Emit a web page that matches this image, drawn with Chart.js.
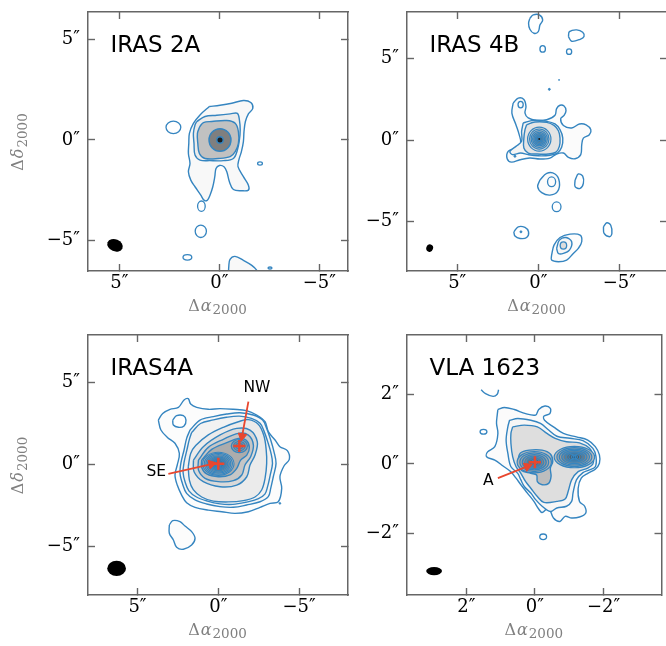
<!DOCTYPE html>
<html>
<head>
<meta charset="utf-8">
<title>Continuum maps</title>
<script src="https://cdn.jsdelivr.net/npm/chart.js"></script>
<style>
  body { margin: 0; background: #fff; }
  #wrap { position: relative; width: 666px; height: 646px; overflow: hidden; }
  canvas { position: absolute; left: 0; top: 0; }
</style>
</head>
<body>
<div id="wrap">
  <canvas id="p1" width="670" height="646"></canvas>
  <canvas id="p2" width="670" height="646"></canvas>
  <canvas id="p3" width="670" height="646"></canvas>
  <canvas id="p4" width="670" height="646"></canvas>
</div>
<script>
// ---- data (offsets in arcsec) ----
const panelNames = ['IRAS 2A', 'IRAS 4B', 'IRAS4A', 'VLA 1623'];
const ticksWide = [5, 0, -5];
const ticksVla = [2, 0, -2];
const iras2aXRange = [-6.43, 6.57], iras2aYRange = [-6.53, 6.38];
const iras4bXRange = [-7.94, 8.1], iras4bYRange = [-8.06, 7.88];
const iras4aXRange = [-8.02, 8.06], iras4aYRange = [-8.0, 7.92];
const vlaXRange = [-3.69, 3.73], vlaYRange = [-3.78, 3.72];

// IRAS 2A
const iras2aLevel1 = [[0.50,1.67],[-0.03,1.73],[-0.62,1.83],[-1.20,1.97],[-1.57,1.87],[-1.67,1.58],[-1.45,1.30],[-1.30,0.92],[-1.23,0.42],[-1.20,-0.08],[-1.10,-0.58],[-0.97,-1.00],[-0.93,-1.33],[-1.20,-1.83],[-1.45,-2.25],[-1.45,-2.50],[-1.12,-2.53],[-0.70,-2.47],[-0.50,-2.08],[-0.37,-1.58],[-0.23,-1.33],[0.00,-1.27],[0.17,-1.42],[0.23,-1.83],[0.33,-2.33],[0.47,-2.75],[0.60,-3.00],[0.77,-3.00],[0.93,-2.75],[1.22,-2.33],[1.43,-2.00],[1.55,-1.58],[1.47,-1.17],[1.55,-0.67],[1.53,-0.17],[1.50,0.33],[1.30,0.83],[0.97,1.25]];
const iras2aLevel2 = [[1.13,0.92],[0.72,1.17],[0.13,1.23],[-0.54,1.30],[-0.90,1.33],[-1.00,1.00],[-1.04,0.50],[-1.00,0.00],[-0.90,-0.50],[-0.70,-0.92],[-0.20,-1.03],[0.47,-1.03],[0.97,-1.00],[1.22,-0.75],[1.27,-0.17],[1.30,0.33],[1.22,0.75]];
const iras2aLevel3 = [[0.98,0.67],[0.80,0.87],[0.38,0.92],[-0.37,0.97],[-0.79,0.83],[-0.95,0.42],[-0.95,-0.17],[-0.79,-0.58],[-0.54,-0.83],[0.05,-0.92],[0.72,-0.92],[1.00,-0.67],[1.08,-0.17],[1.10,0.33]];
const iras2aEdge = [[-0.45,-6.8],[-0.47,-6.3],[-0.53,-5.95],[-0.78,-5.8],[-1.2,-6.0],[-1.62,-6.25],[-1.87,-6.5],[-1.95,-6.8]];
const iras2aCore = [[-0.03, 0, [0.55, 0.16], [0.56, 0.16]]];
const iras2aSpots = [[2.3,0.63,0.37,0.31],[-2.03,-1.17,0.12,0.08],[0.93,-4.55,0.28,0.31],[1.6,-5.85,0.22,0.14],[-2.53,-6.38,0.1,0.05],[0.9,-3.3,0.19,0.26]];
const iras2aBeam = [[5.22,-5.25,0.4,0.3,0.4]];

// IRAS 4B
const iras4bLevel1 = [[1.55,2.28],[1.24,2.58],[0.89,2.50],[0.76,2.07],[0.82,1.66],[0.62,1.36],[0.10,1.21],[-0.52,1.25],[-1.03,1.52],[-1.13,1.93],[-1.34,2.14],[-1.59,2.09],[-1.71,1.81],[-1.59,1.52],[-1.38,1.31],[-1.55,0.90],[-2.06,0.74],[-2.54,0.99],[-2.95,0.94],[-3.24,0.64],[-3.15,0.33],[-2.78,0.12],[-2.68,-0.29],[-2.62,-0.90],[-2.27,-1.15],[-1.86,-1.07],[-1.55,-0.80],[-1.13,-0.86],[-0.72,-1.11],[-0.10,-1.17],[0.52,-1.11],[1.13,-1.21],[1.65,-1.36],[1.92,-1.15],[1.86,-0.70],[1.44,-0.49],[1.09,-0.18],[1.18,0.33],[1.38,0.94],[1.63,1.66]];
const iras4bLevel2 = [[0.93,1.05],[0.31,1.21],[-0.52,1.15],[-1.03,0.99],[-1.34,0.64],[-1.51,0.12],[-1.44,-0.45],[-1.18,-0.80],[-0.72,-0.94],[0.00,-0.97],[0.62,-0.90],[1.09,-0.80],[1.59,-0.90],[1.75,-0.70],[1.38,-0.39],[1.03,-0.08],[1.03,0.53]];
const iras4bLevel3 = [[0.72,0.94],[0.21,1.11],[-0.52,1.09],[-0.97,0.90],[-1.24,0.57],[-1.34,0.12],[-1.30,-0.39],[-1.09,-0.74],[-0.62,-0.86],[0.10,-0.86],[0.62,-0.80],[0.89,-0.49],[0.89,0.12],[0.82,0.64]];
const iras4bTopLoop = [[0.52,7.49],[0.31,7.70],[-0.06,7.70],[-0.27,7.39],[-0.10,7.08],[0.00,6.67],[0.27,6.57],[0.52,6.82],[0.60,7.19]];
const iras4bNorthBlob = [[-1.86,6.37],[-1.92,6.67],[-2.37,6.78],[-2.74,6.63],[-2.82,6.37],[-2.58,6.20],[-2.06,6.08]];
const iras4bSouthBlob = [[-0.10,-2.46],[-0.52,-2.05],[-1.03,-2.09],[-1.30,-2.57],[-1.18,-3.18],[-0.72,-3.39],[-0.21,-3.24],[0.04,-2.87]];
const iras4bWestBlob = [[-2.27,-2.46],[-2.47,-2.09],[-2.74,-2.22],[-2.78,-2.67],[-2.58,-2.98],[-2.27,-2.87]];
const iras4bFarBlob = [[-4.02,-5.34],[-4.23,-5.09],[-4.47,-5.24],[-4.54,-5.75],[-4.39,-5.95],[-4.06,-5.75]];
const iras4bEastBlob = [[1.51,-5.65],[1.24,-5.34],[0.82,-5.38],[0.60,-5.65],[0.72,-6.00],[1.13,-6.06],[1.44,-5.91]];
const iras4bSouthOuter = [[-0.82,-7.08],[-0.97,-6.47],[-1.34,-6.00],[-1.96,-5.79],[-2.58,-5.85],[-2.68,-6.26],[-2.47,-6.67],[-2.16,-6.98],[-1.75,-7.39],[-1.24,-7.49],[-0.82,-7.39]];
const iras4bSouthMid = [[-1.13,-6.67],[-1.30,-6.16],[-1.71,-6.00],[-2.06,-6.26],[-1.92,-6.78],[-1.55,-6.98],[-1.24,-6.98]];
const iras4bCore = [[-0.06, 0.06, [0.72,0.6,0.5,0.41,0.33,0.25,0.18,0.1], [0.74,0.62,0.52,0.42,0.34,0.26,0.18,0.1]]];
const iras4bSpots = [[1.09,2.18,0.16,0.2],[-0.27,5.61,0.17,0.2],[-1.90,5.44,0.16,0.17],[-0.82,-2.57,0.25,0.3],[-1.13,-4.11,0.27,0.3]];
const iras4bDots = [[-0.68,3.12,0.06,0.06],[-1.28,3.70,0.03,0.03],[1.44,-1.0,0.06,0.06],[1.07,-5.65,0.06,0.06]];
const iras4bSouthCore = [[-1.55,-6.49,0.2,0.22]];
const iras4bBeam = [[6.70,-6.65,0.21,0.23,0.3]];

// IRAS4A
const iras4aLevel1 = [[3.71,2.71],[3.44,3.12],[2.99,3.37],[2.47,3.49],[2.12,3.94],[1.86,4.02],[1.71,3.69],[1.34,3.49],[0.62,3.37],[-0.10,3.41],[-0.93,3.37],[-1.75,3.29],[-2.37,3.02],[-2.89,2.61],[-3.09,2.00],[-3.51,1.49],[-3.81,1.08],[-4.27,0.84],[-4.39,0.31],[-4.06,-0.10],[-3.81,-0.76],[-3.92,-1.47],[-3.71,-2.29],[-3.20,-2.39],[-2.58,-2.63],[-1.86,-2.90],[-1.03,-3.00],[-0.21,-2.90],[0.62,-2.80],[1.44,-2.63],[1.96,-2.35],[2.27,-1.88],[2.54,-1.27],[2.68,-0.65],[2.54,-0.04],[2.41,0.67],[2.68,1.29],[3.15,1.65],[3.55,2.10]];
const iras4aLevel2 = [[1.75,2.10],[1.13,2.71],[0.31,2.92],[-0.52,3.08],[-1.34,3.16],[-2.16,3.02],[-2.74,2.71],[-2.99,2.20],[-3.24,1.49],[-3.44,0.78],[-3.57,0.06],[-3.40,-0.76],[-3.24,-1.47],[-3.09,-1.98],[-2.58,-2.29],[-1.75,-2.49],[-0.93,-2.63],[-0.10,-2.59],[0.72,-2.43],[1.44,-2.18],[1.96,-1.78],[2.21,-1.20],[2.37,-0.55],[2.31,0.10],[2.12,0.88],[1.96,1.59]];
const iras4aLevel3 = [[1.65,1.95],[1.10,2.50],[0.30,2.72],[-0.50,2.88],[-1.30,2.95],[-2.05,2.82],[-2.58,2.52],[-2.82,2.05],[-3.05,1.40],[-3.25,0.72],[-3.35,0.06],[-3.20,-0.70],[-3.05,-1.35],[-2.88,-1.82],[-2.45,-2.12],[-1.70,-2.32],[-0.90,-2.45],[-0.10,-2.42],[0.68,-2.25],[1.35,-2.00],[1.82,-1.62],[2.05,-1.10],[2.18,-0.50],[2.12,0.12],[1.95,0.85],[1.80,1.50]];
const iras4aLevel4 = [[1.86,-0.14],[1.71,0.67],[1.40,1.15],[0.62,1.80],[-0.31,2.27],[-1.24,2.61],[-1.86,2.74],[-2.47,2.45],[-2.82,1.75],[-2.96,0.90],[-2.99,0.06],[-2.89,-0.86],[-2.68,-1.57],[-2.27,-2.00],[-1.55,-2.22],[-0.62,-2.30],[0.31,-2.25],[1.03,-2.00],[1.55,-1.55],[1.79,-0.96]];
const iras4aLevel5 = [[1.54,0.26],[0.93,1.08],[-0.11,1.80],[-1.14,2.20],[-1.96,2.10],[-2.41,1.39],[-2.27,0.57],[-1.96,-0.04],[-1.76,-0.76],[-1.14,-1.27],[-0.11,-1.37],[0.93,-1.06],[1.50,-0.45]];
const iras4aLevel6 = [[1.23,0.26],[0.62,1.04],[-0.31,1.53],[-1.24,1.90],[-1.86,1.79],[-2.17,1.18],[-2.00,0.47],[-1.65,-0.04],[-1.45,-0.65],[-0.93,-1.00],[0.00,-1.06],[0.82,-0.86],[1.23,-0.35]];
const iras4aLevel7 = [[1.03,0.26],[0.41,0.92],[-0.52,1.33],[-1.24,1.59],[-1.71,1.49],[-1.92,1.04],[-1.76,0.57],[-1.38,0.26],[-1.14,-0.25],[-0.72,-0.65],[0.00,-0.76],[0.72,-0.59],[1.03,-0.19]];
const iras4aHole = [[2.82,2.71],[2.58,2.98],[2.16,2.98],[2.00,2.71],[2.12,2.35],[2.47,2.27],[2.78,2.41]];
const iras4aSouthBlob = [[3.03,-3.71],[2.82,-3.45],[2.37,-3.51],[2.06,-3.78],[1.65,-4.12],[1.44,-4.53],[1.65,-4.94],[2.16,-5.20],[2.58,-5.08],[2.78,-4.63],[3.03,-4.22]];
const iras4aSECore = [[0, 0.03, [0.97,0.87,0.77,0.68,0.59,0.5,0.42,0.34,0.26,0.19,0.12,0.06], [0.71,0.64,0.57,0.5,0.43,0.37,0.31,0.25,0.19,0.14,0.09,0.05]]];
const iras4aNWCore = [[-1.3, 1.12, [0.5,0.36,0.22], [0.4,0.29,0.17]]];
const iras4aDots = [[-3.81,-2.39,0.05,0.05]];
const iras4aBeam = [[6.29,-6.37,0.58,0.47,0]];
const iras4aSources = [[0, 0.03], [-1.3, 1.12]];
const iras4aArrows = [[-1.86,3.84,-1.47,1.72], [3.09,-0.59,0.42,0.02]];
const iras4aNotes = [['NW', -2.39, 4.65], ['SE', 3.84, -0.49]];

// VLA 1623
const vlaLevel1 = [[1.08,1.57],[0.89,1.63],[0.60,1.57],[0.27,1.45],[-0.02,1.41],[-0.11,1.57],[-0.29,1.67],[-0.45,1.60],[-0.43,1.45],[-0.26,1.38],[-0.28,1.26],[-0.54,1.07],[-0.83,0.88],[-1.21,0.78],[-1.54,0.69],[-1.76,0.50],[-1.88,0.26],[-1.88,0.02],[-1.76,-0.15],[-1.54,-0.27],[-1.35,-0.41],[-1.26,-0.70],[-1.30,-1.08],[-1.45,-1.22],[-1.48,-1.42],[-1.30,-1.53],[-1.07,-1.56],[-0.88,-1.51],[-0.73,-1.66],[-0.54,-1.56],[-0.40,-1.27],[-0.21,-1.40],[-0.11,-1.30],[0.03,-1.08],[0.22,-0.84],[0.41,-0.60],[0.55,-0.41],[0.71,-0.22],[0.93,-0.06],[1.17,0.11],[1.41,0.21],[1.38,0.35],[1.17,0.50],[1.08,0.88],[1.12,1.17],[1.10,1.41]];
const vlaLevel2 = [[0.74,1.26],[0.50,1.31],[0.12,1.26],[-0.16,1.17],[-0.40,0.98],[-0.64,0.80],[-1.02,0.74],[-1.40,0.67],[-1.69,0.45],[-1.78,0.21],[-1.76,-0.08],[-1.59,-0.17],[-1.40,-0.25],[-1.21,-0.46],[-1.11,-0.84],[-1.07,-1.08],[-0.92,-1.22],[-0.64,-1.27],[-0.45,-1.37],[-0.21,-1.22],[-0.02,-1.03],[0.12,-0.84],[0.31,-0.65],[0.41,-0.46],[0.50,-0.27],[0.70,-0.08],[0.79,0.31],[0.84,0.69],[0.79,1.07]];
const vlaLevel3 = [[0.65,1.07],[0.31,1.12],[-0.07,1.07],[-0.35,0.88],[-0.59,0.74],[-0.92,0.64],[-1.30,0.61],[-1.59,0.45],[-1.70,0.21],[-1.69,0.00],[-1.54,-0.12],[-1.26,-0.22],[-1.07,-0.46],[-0.97,-0.79],[-0.88,-1.01],[-0.64,-1.08],[-0.26,-1.11],[-0.07,-0.94],[0.12,-0.70],[0.27,-0.51],[0.41,-0.27],[0.55,-0.08],[0.65,0.21],[0.70,0.59],[0.70,0.88]];
const vlaLevel4 = [[0.50,0.07],[0.43,0.31],[0.17,0.40],[-0.21,0.40],[-0.45,0.29],[-0.52,0.07],[-0.45,-0.12],[-0.47,-0.36],[-0.40,-0.56],[-0.21,-0.60],[-0.07,-0.51],[-0.05,-0.32],[0.12,-0.27],[0.39,-0.19]];
const vlaArc = [[1.57,2.14],[1.44,2.03],[1.22,1.95],[1.10,2.01],[1.06,2.14]];
const vlaCoreA = [[0.02, 0.05, [0.5,0.42,0.35,0.28,0.21,0.14,0.08], [0.31,0.27,0.22,0.18,0.14,0.1,0.06]]];
const vlaCoreB = [[-1.15, 0.2, [0.59,0.51,0.44,0.37,0.3,0.23,0.16,0.09,0.04], [0.31,0.27,0.23,0.19,0.15,0.12,0.08,0.05,0.025]]];
const vlaSpots = [[1.5,0.93,0.1,0.07],[-0.24,-2.1,0.1,0.08]];
const vlaBeam = [[2.94,-3.09,0.23,0.12,0]];
const vlaSources = [[0, 0.05]];
const vlaArrows = [[1.08,-0.41,0.22,-0.07]];
const vlaNotes = [['A', 1.36, -0.5]];

// ---- styling helpers ----
const BLUE = '#3585c0';
const RED = '#e8472f';
const GREY_TITLE = '#808080';

function pts(list) {
  return list.map(p => ({ x: p[0], y: p[1] }));
}

function contour(list, fill, closed) {
  const data = pts(closed === false ? list : list.concat([list[0]]));
  return {
    data: data,
    borderColor: BLUE,
    borderWidth: 1.4,
    backgroundColor: fill || 'rgba(0,0,0,0)',
    fill: fill ? 'shape' : false,
    tension: 0.35,
    pointRadius: 0
  };
}

function rings(list, fills, stroke, width) {
  return {
    data: list.map(s => ({ x: s[0], y: s[1], rx: s[2], ry: s[3], rot: s[4] || 0 })),
    showLine: false,
    pointRadius: 0,
    rings: true,
    ringFill: fills,
    ringStroke: stroke,
    ringWidth: width || 1.2
  };
}

function crosses(list) {
  return {
    data: pts(list),
    showLine: false,
    pointStyle: 'cross',
    pointRadius: 6,
    pointBorderWidth: 2.5,
    pointBorderColor: RED,
    borderColor: RED
  };
}

function arrow(a) {
  return {
    data: [{ x: a[0], y: a[1] }, { x: a[2], y: a[3] }],
    borderColor: RED,
    borderWidth: 1.8,
    tension: 0,
    fill: false,
    pointRadius: [0, 5],
    pointStyle: 'triangle',
    pointBackgroundColor: RED,
    pointBorderColor: RED,
    pointBorderWidth: 1,
    pointRotation: function(c) {
      const d = c.dataset.data, sx = c.chart.scales.x, sy = c.chart.scales.y;
      const dx = sx.getPixelForValue(d[1].x) - sx.getPixelForValue(d[0].x);
      const dy = sy.getPixelForValue(d[1].y) - sy.getPixelForValue(d[0].y);
      return Math.atan2(dy, dx) * 180 / Math.PI + 90;
    }
  };
}

// draws ellipse families (cores, small spots, beams) at the points of a dataset
const ringPlugin = {
  id: 'rings',
  afterDatasetDraw(chart, args) {
    const ds = chart.data.datasets[args.index];
    if (!ds.rings) return;
    const { ctx, chartArea: a, scales } = chart;
    const kx = Math.abs(scales.x.getPixelForValue(1) - scales.x.getPixelForValue(0));
    const ky = Math.abs(scales.y.getPixelForValue(1) - scales.y.getPixelForValue(0));
    ctx.save();
    ctx.beginPath();
    ctx.rect(a.left, a.top, a.right - a.left, a.bottom - a.top);
    ctx.clip();
    args.meta.data.forEach((el, j) => {
      const raw = ds.data[j];
      const rx = [].concat(raw.rx), ry = [].concat(raw.ry);
      rx.forEach((r, k) => {
        ctx.beginPath();
        ctx.ellipse(el.x, el.y, r * kx, ry[k] * ky, raw.rot, 0, Math.PI * 2);
        const f = ds.ringFill && ds.ringFill[k];
        if (f) { ctx.fillStyle = f; ctx.fill(); }
        if (ds.ringStroke) {
          ctx.strokeStyle = ds.ringStroke;
          ctx.lineWidth = ds.ringWidth;
          ctx.stroke();
        }
      });
    });
    ctx.restore();
  }
};

function drawMath(ctx, cx, by, greek) {
  const parts = [
    { t: '\u0394', f: '16px "DejaVu Serif"', dy: 0 },
    { t: greek, f: 'italic 16px "DejaVu Serif"', dy: 0 },
    { t: '2000', f: '13.5px "DejaVu Serif"', dy: 3.5 }
  ];
  let w = 0;
  parts.forEach(p => { ctx.font = p.f; p.w = ctx.measureText(p.t).width + 1; w += p.w; });
  let x = cx - w / 2;
  ctx.fillStyle = GREY_TITLE;
  ctx.textAlign = 'left';
  ctx.textBaseline = 'alphabetic';
  parts.forEach(p => { ctx.font = p.f; ctx.fillText(p.t, x, by + p.dy); x += p.w; });
}

function textPlugin(cfg) {
  return {
    id: 'panelText',
    afterDraw(chart) {
      const { ctx, chartArea: a, scales } = chart;
      ctx.save();
      ctx.fillStyle = '#000';
      ctx.font = '23px "DejaVu Sans"';
      ctx.textAlign = 'left';
      ctx.textBaseline = 'alphabetic';
      ctx.fillText(cfg.name, a.left + 22.5, a.top + 39.5);
      drawMath(ctx, (a.left + a.right) / 2, a.bottom + 39.5, '\u03b1');
      (cfg.notes || []).forEach(n => {
        ctx.fillStyle = '#000';
        ctx.font = '15.5px "DejaVu Sans"';
        ctx.textAlign = 'center';
        ctx.textBaseline = 'middle';
        ctx.fillText(n[0], scales.x.getPixelForValue(n[1]), scales.y.getPixelForValue(n[2]));
      });
      if (cfg.yTitle) {
        ctx.translate(23, (a.top + a.bottom) / 2);
        ctx.rotate(-Math.PI / 2);
        drawMath(ctx, 0, 0, '\u03b4');
      }
      ctx.restore();
    }
  };
}

const fmt = v => (v < 0 ? '\u2212' + (-v) : '' + v) + '\u2033';

function axis(pos, range, tickVals, labels, fit) {
  const horizontal = pos === 'bottom' || pos === 'top';
  return {
    type: 'linear',
    position: pos,
    reverse: horizontal,
    min: range[0],
    max: range[1],
    afterBuildTicks: s => { s.ticks = tickVals.map(v => ({ value: v })); },
    afterFit: s => {
      fit(s);
      s.paddingLeft = 0; s.paddingRight = 0; s.paddingTop = 0; s.paddingBottom = 0;
    },
    ticks: {
      display: labels,
      callback: fmt,
      color: '#000',
      font: { family: 'DejaVu Serif', size: 18 },
      padding: horizontal ? 9 : 15,
      maxRotation: 0,
      autoSkip: false
    },
    grid: { drawOnChartArea: false, drawTicks: true, tickLength: -7, tickWidth: 1.4, tickColor: '#666', z: 1 },
    border: { display: true, color: '#666', width: 1.5, z: 1 }
  };
}

function panel(id, box, xr, yr, tickVals, datasets, text) {
  datasets.forEach((d, i) => { d.order = datasets.length - i; });
  return new Chart(document.getElementById(id), {
    type: 'line',
    data: { datasets: datasets },
    options: {
      responsive: false,
      animation: false,
      events: [],
      layout: {
        padding: { left: box.left - 88, top: box.top, right: 670 - box.right, bottom: 646 - box.bottom - box.xh }
      },
      elements: { point: { radius: 0 }, line: { borderJoinStyle: 'round' } },
      plugins: { legend: { display: false }, tooltip: { enabled: false } },
      scales: {
        x: axis('bottom', xr, tickVals, true, s => { s.height = box.xh; }),
        x2: axis('top', xr, tickVals, false, s => { s.height = 0; }),
        y: axis('left', yr, tickVals, true, s => { s.width = 88; }),
        y2: axis('right', yr, tickVals, false, s => { s.width = 0; })
      }
    },
    plugins: [ringPlugin, textPlugin(text)]
  });
}

// ---- IRAS 2A ----
panel('p1', { left: 88, top: 12, right: 348, bottom: 271, xh: 60 }, iras2aXRange, iras2aYRange, ticksWide, [
  contour(iras2aLevel1, '#f8f8f8'),
  contour(iras2aEdge, '#f8f8f8', false),
  contour(iras2aLevel2, '#ebebeb'),
  contour(iras2aLevel3, '#c1c1c1'),
  rings(iras2aCore, ['#7f7f7f', '#1c1c1c'], BLUE, 1.4),
  rings(iras2aSpots, null, BLUE, 1.3),
  rings(iras2aBeam, ['#000'], null)
], { name: panelNames[0], yTitle: true });

// ---- IRAS 4B ----
panel('p2', { left: 407, top: 12, right: 667, bottom: 271, xh: 60 }, iras4bXRange, iras4bYRange, ticksWide, [
  contour(iras4bLevel1, '#fbfbfb'),
  contour(iras4bLevel2, '#f4f4f4'),
  contour(iras4bLevel3, '#e4e4e4'),
  contour(iras4bTopLoop),
  contour(iras4bNorthBlob),
  contour(iras4bSouthBlob, '#fcfcfc'),
  contour(iras4bWestBlob),
  contour(iras4bFarBlob),
  contour(iras4bEastBlob),
  contour(iras4bSouthOuter, '#fcfcfc'),
  contour(iras4bSouthMid, '#f6f6f6'),
  rings(iras4bSouthCore, ['#dcdcdc'], BLUE, 1.3),
  rings(iras4bCore, ['#d6d6d6', '#c6c6c6', '#b6b6b6', '#a4a4a4', '#929292', '#7e7e7e', '#686868', '#1c1c1c'], BLUE, 1.2),
  rings(iras4bSpots, null, BLUE, 1.3),
  rings(iras4bDots, [BLUE], BLUE, 1),
  rings(iras4bBeam, ['#000'], null)
], { name: panelNames[1], yTitle: false });

// ---- IRAS4A ----
panel('p3', { left: 88, top: 335, right: 348, bottom: 595, xh: 51 }, iras4aXRange, iras4aYRange, ticksWide, [
  contour(iras4aLevel1, '#fcfcfc'),
  contour(iras4aHole, '#ffffff'),
  contour(iras4aSouthBlob, '#fcfcfc'),
  contour(iras4aLevel2, '#f7f7f7'),
  contour(iras4aLevel3, '#f2f2f2'),
  contour(iras4aLevel4, '#ebebeb'),
  contour(iras4aLevel5, '#d9d9d9'),
  contour(iras4aLevel6, '#c6c6c6'),
  contour(iras4aLevel7, '#acacac'),
  rings(iras4aNWCore, ['#9d9d9d', '#929292', '#888888'], BLUE, 1.2),
  rings(iras4aSECore, ['#b8b8b8', '#acacac', '#a0a0a0', '#939393', '#868686', '#797979', '#6b6b6b', '#5e5e5e', '#505050', '#434343', '#363636', '#222222'], BLUE, 1.1),
  rings(iras4aDots, [BLUE], BLUE, 1),
  rings(iras4aBeam, ['#000'], null),
  crosses(iras4aSources),
  arrow(iras4aArrows[0]),
  arrow(iras4aArrows[1])
], { name: panelNames[2], yTitle: true, notes: iras4aNotes });

// ---- VLA 1623 ----
panel('p4', { left: 407, top: 335, right: 667, bottom: 595, xh: 51 }, vlaXRange, vlaYRange, ticksVla, [
  contour(vlaLevel1, '#fbfbfb'),
  contour(vlaLevel2, '#f6f6f6'),
  contour(vlaLevel3, '#dedede'),
  contour(vlaLevel4, '#bdbdbd'),
  contour(vlaArc, null, false),
  rings(vlaCoreA, ['#b0b0b0', '#a2a2a2', '#939393', '#848484', '#737373', '#626262', '#4a4a4a'], BLUE, 1.2),
  rings(vlaCoreB, ['#b8b8b8', '#a8a8a8', '#989898', '#888888', '#787878', '#686868', '#585858', '#404040', '#111111'], BLUE, 1.2),
  rings(vlaSpots, null, BLUE, 1.3),
  rings(vlaBeam, ['#000'], null),
  crosses(vlaSources),
  arrow(vlaArrows[0])
], { name: panelNames[3], yTitle: false, notes: vlaNotes });
</script>
</body>
</html>
